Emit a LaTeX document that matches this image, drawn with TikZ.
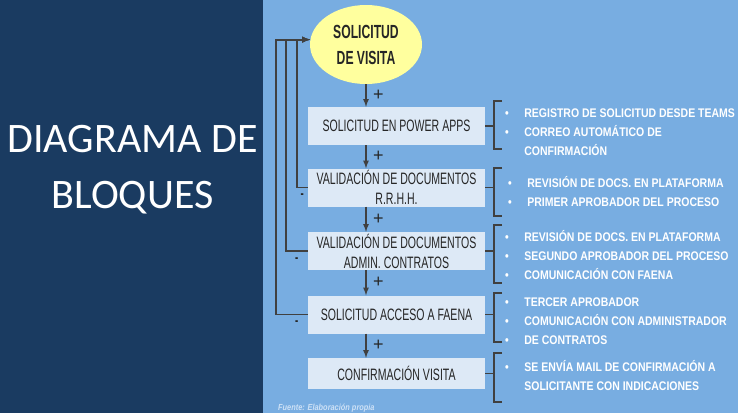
\documentclass[tikz,border=0pt]{standalone}
\usepackage{fontspec}
\usepackage{tikz}
\usetikzlibrary{calc}
\usetikzlibrary{shapes}
\setmainfont{Liberation Sans}
\newfontfamily\titulofont{Carlito}
\newfontfamily\cajafont[FakeStretch=0.64]{Liberation Sans}
\newfontfamily\listafont[FakeStretch=0.84]{Liberation Sans}
\definecolor{fondoizq}{RGB}{26,59,97}
\definecolor{fondoder}{RGB}{120,173,225}
\definecolor{cajafill}{RGB}{221,233,246}
\definecolor{elipsefill}{RGB}{255,255,158}
\definecolor{linea}{RGB}{64,64,64}
\definecolor{textocaja}{RGB}{38,38,38}
\definecolor{fuentecolor}{RGB}{205,225,246}
\tikzset{
  caja/.style={fill=cajafill, minimum width=177pt, minimum height=38pt, inner sep=0pt, align=center, text=textocaja, font=\cajafont\fontsize{16.5}{20}\selectfont},
  elipse/.style={ellipse, fill=elipsefill, minimum width=112pt, minimum height=79pt, inner sep=0pt, align=center, text=textocaja, font=\cajafont\bfseries\fontsize{19}{26}\selectfont},
  flecha/.style={draw=linea, line width=1.6pt, -latex},
  retro/.style={draw=linea, line width=1.8pt, -latex},
  llavelinea/.style={draw=linea, line width=1.6pt},
  mas/.style={midway, right=3pt, text=textocaja, font=\fontsize{18}{18}\selectfont},
  menos/.style={midway, below=2pt, text=textocaja, font=\cajafont\bfseries\fontsize{15}{15}\selectfont},
  lista/.style={anchor=base west, inner sep=0pt, text=white, font=\listafont\bfseries\fontsize{12.5}{19}\selectfont}
}
% bracket: box name, top y, bottom y
\newcommand{\llave}[3]{ \draw[llavelinea] (#1.east) -- ++(9,0); \draw[llavelinea] (502,#2) -- (494,#2) -- (494,#3) -- (502,#3);}
% bullet list: name, position, rows
\newcommand{\vinetas}[3]{ \node[lista] (#1) at (#2) {\begin{tabular}[t]{@{}l@{\hspace{15.5pt}}l@{}} #3 \end{tabular}};}

\begin{document}
\begin{tikzpicture}[x=1pt, y=-1pt]
        % background
        \fill[fondoizq] (0,0) rectangle (263,413);
        \fill[fondoder] (263,0) rectangle (738,413);
        \node[text=white, align=center, font=\titulofont\fontsize{42}{56}\selectfont] (titulo) at (132.5,169.5) {DIAGRAMA DE\\BLOQUES};
        % blocks
        \node[elipse] (sol) at (366,44.5) {SOLICITUD\\DE VISITA};
        \node[caja] (b1) at (396.5,126) {SOLICITUD EN POWER APPS};
        \node[caja] (b2) at (396.5,187.5) {VALIDACIÓN DE DOCUMENTOS\\R.R.H.H.};
        \node[caja] (b3) at (396.5,251) {VALIDACIÓN DE DOCUMENTOS\\ADMIN. CONTRATOS};
        \node[caja] (b4) at (396.5,314.5) {SOLICITUD ACCESO A FAENA};
        \node[caja, minimum height=31pt] (b5) at (396.5,373.5) {CONFIRMACIÓN VISITA};
        % forward arrows
        \draw[flecha] (sol.south) -- (sol.south |- b1.north) node[mas] {+};
        \draw[flecha] (b1.south -| sol) -- (b2.north -| sol) node[mas] {+};
        \draw[flecha] (b2.south -| sol) -- (b3.north -| sol) node[mas] {+};
        \draw[flecha] (b3.south -| sol) -- (b4.north -| sol) node[mas] {+};
        \draw[flecha] (b4.south -| sol) -- (b5.north -| sol) node[mas] {+};
        % feedback
        \draw[retro] (b2.west) -- node[menos] {-} ++(-11,0) |- (sol.175);
        \draw[retro] (b3.west) -- node[menos] {-} ++(-22,0) |- (sol.175);
        \draw[retro] (b4.west) -- node[menos, pos=0.35] {-} ++(-32,0) |- (sol.175);
        % brackets
        \llave{b1}{101}{149}
        \llave{b2}{168}{216}
        \llave{b3}{225}{283}
        \llave{b4}{293}{342}
        \llave{b5}{353}{402}
        % bullet lists
        \vinetas{l1}{505,117.5}{\textbullet & REGISTRO DE SOLICITUD DESDE TEAMS\\ \textbullet & CORREO AUTOMÁTICO DE\\ & CONFIRMACIÓN}
        \vinetas{l2}{508,187.5}{\textbullet & REVISIÓN DE DOCS. EN PLATAFORMA\\ \textbullet & PRIMER APROBADOR DEL PROCESO}
        \vinetas{l3}{505,241.5}{\textbullet & REVISIÓN DE DOCS. EN PLATAFORMA\\ \textbullet & SEGUNDO APROBADOR DEL PROCESO\\ \textbullet & COMUNICACIÓN CON FAENA}
        \vinetas{l4}{505,306.5}{\textbullet & TERCER APROBADOR\\ \textbullet & COMUNICACIÓN CON ADMINISTRADOR\\ \textbullet & DE CONTRATOS}
        \vinetas{l5}{505,371.5}{\textbullet & SE ENVÍA MAIL DE CONFIRMACIÓN A\\ & SOLICITANTE CON INDICACIONES}
        % source
        \node[anchor=west, inner sep=0pt, text=fuentecolor, font=\listafont\bfseries\itshape\fontsize{8.8}{8.8}\selectfont] (fuente) at (278,408) {Fuente: Elaboración propia};
\end{tikzpicture}
\end{document}
